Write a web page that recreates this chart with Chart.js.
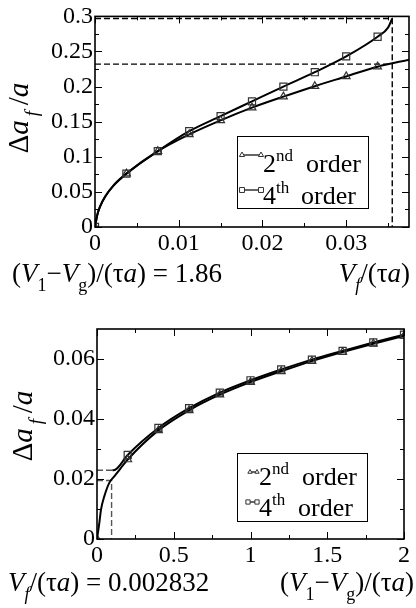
<!DOCTYPE html>
<html>
<head>
<meta charset="utf-8">
<title>Δa_f/a</title>
<script src="https://cdn.jsdelivr.net/npm/chart.js@4.4.1/dist/chart.umd.min.js"></script>
<style>
  html, body { margin: 0; padding: 0; background: #fff; }
  #wrap { width: 416px; height: 608px; position: relative; overflow: hidden; }
  canvas { display: block; }
</style>
</head>
<body>
<div id="wrap">
  <canvas id="topChart" width="416" height="300"></canvas>
  <canvas id="botChart" width="416" height="308"></canvas>
</div>
<script>
// ---- top panel: (V1-Vg)/(τa) = 1.86, x = Vf/(τa) ----
const topX = [0, 0.00375, 0.0075, 0.01125, 0.015, 0.01875, 0.0225, 0.02625, 0.03, 0.03375];
const top2nd = [0, 0.076, 0.108, 0.132, 0.152, 0.170, 0.1857, 0.2006, 0.2145, 0.2284];
const top4th = [0, 0.076, 0.108, 0.1365, 0.158, 0.179, 0.200, 0.2205, 0.243, 0.271];
const topStartX = [0, 0.00027, 0.0006, 0.0012, 0.0022];
const topStartY = [0, 0.017, 0.029, 0.043, 0.059];
const top2ndEndX = [0.0376];
const top2ndEndY = [0.2386];
const top4thEndX = [0.035, 0.0355];
const top4thEndY = [0.284, 0.297];
const topGuideX = 0.0355;
const topGuideY = [0.297, 0.232];
const topXTicks = [0, 0.01, 0.02, 0.03];
const topXLabels = ['0', '0.01', '0.02', '0.03'];
const topXMinor = [0.005, 0.015, 0.025, 0.035];
const topYTicks = [0, 0.05, 0.1, 0.15, 0.2, 0.25, 0.3];
const topYLabels = ['0', '0.05', '0.1', '0.15', '0.2', '0.25', '0.3'];
const topYMinor = [0.025, 0.075, 0.125, 0.175, 0.225, 0.275];

// ---- bottom panel: Vf/(τa) = 0.002832, x = (V1-Vg)/(τa) ----
const botX = [0, 0.2, 0.4, 0.6, 0.8, 1.0, 1.2, 1.4, 1.6, 1.8, 2.0];
const bot2nd = [0, 0.0265, 0.0362, 0.0429, 0.0481, 0.0523, 0.0559, 0.0593, 0.0623, 0.0651, 0.0677];
const bot4th = [null, 0.0280, 0.0370, 0.0436, 0.0488, 0.0529, 0.0565, 0.0598, 0.0627, 0.0655, 0.0681];
const botStartX = [0, 0.015, 0.026, 0.0475, 0.08, 0.1126, 0.156];
const botStartY = [0, 0.0053, 0.0098, 0.0142, 0.0187, 0.0209, 0.0237];
const bot4thStartX = [0.1, 0.12];
const bot4thStartY = [0.0229, 0.0231];
const botGuideX = [0.1, 0.095];
const botGuideY = [0.0229, 0.0195];
const botXTicks = [0, 0.5, 1, 1.5, 2];
const botXLabels = ['0', '0.5', '1', '1.5', '2'];
const botXMinor = [0.25, 0.75, 1.25, 1.75];
const botYTicks = [0, 0.02, 0.04, 0.06];
const botYLabels = ['0', '0.02', '0.04', '0.06'];
const botYMinor = [0.01, 0.03, 0.05];

const serif = '"Liberation Serif", "Times New Roman", serif';

function pts(xs, ys) {
    return xs.map((x, i) => ({ x: x, y: ys[i] })).filter(p => p.y !== null);
}

function setFont(ctx, f, size) {
    const small = f.includes('b') || f.includes('p');
    ctx.font = (f.includes('i') ? 'italic ' : '') + (small ? Math.round(size * 0.65) : size) + 'px ' + serif;
}

// segs: [text, flags]  i = italic, b = subscript, p = superscript
function drawRich(ctx, segs, x, y, size, align) {
    let w = 0;
    segs.forEach(s => { setFont(ctx, s[1] || '', size); w += ctx.measureText(s[0]).width; });
    let cx = align === 'right' ? x - w : align === 'center' ? x - w / 2 : x;
    ctx.textAlign = 'left';
    ctx.textBaseline = 'alphabetic';
    ctx.fillStyle = '#000';
    segs.forEach(s => {
        const f = s[1] || '';
        setFont(ctx, f, size);
        let dy = 0;
        if (f.includes('b')) dy = size * 0.33;
        if (f.includes('p')) dy = -size * 0.42;
        ctx.fillText(s[0], cx, y + dy);
        cx += ctx.measureText(s[0]).width;
    });
    return cx;
}

const deco = {
    id: 'deco',
    afterDraw(chart, args, o) {
        const ctx = chart.ctx;
        const a = chart.chartArea;
        const xs = chart.scales.x, ys = chart.scales.y;
        ctx.save();
        ctx.strokeStyle = '#000';
        ctx.lineWidth = 1;
        // inward ticks on all four sides
        const tick = (v, len, isX) => {
            ctx.beginPath();
            if (isX) {
                const p = Math.round(xs.getPixelForValue(v)) + 0.5;
                ctx.moveTo(p, a.bottom); ctx.lineTo(p, a.bottom - len);
                ctx.moveTo(p, a.top); ctx.lineTo(p, a.top + len);
            } else {
                const p = Math.round(ys.getPixelForValue(v)) + 0.5;
                ctx.moveTo(a.left, p); ctx.lineTo(a.left + len, p);
                ctx.moveTo(a.right, p); ctx.lineTo(a.right - len, p);
            }
            ctx.stroke();
        };
        o.xMajor.forEach(v => tick(v, 7, true));
        o.xMinor.forEach(v => tick(v, 4, true));
        o.yMajor.forEach(v => tick(v, 7, false));
        o.yMinor.forEach(v => tick(v, 4, false));
        ctx.lineWidth = 1.6;
        ctx.strokeRect(a.left, a.top, a.right - a.left, a.bottom - a.top);

        // legend box
        const L = o.legend;
        ctx.lineWidth = 1;
        ctx.strokeRect(L.x + 0.5, L.y + 0.5, L.w, L.h);
        L.rows.forEach(r => {
            ctx.strokeStyle = '#000';
            ctx.lineWidth = 1.2;
            ctx.beginPath();
            ctx.moveTo(r.x1, r.sy); ctx.lineTo(r.x2, r.sy);
            ctx.stroke();
            ctx.fillStyle = '#fff';
            ctx.strokeStyle = '#333';
            ctx.lineWidth = 1;
            [r.x1, r.x2].forEach(px => {
                Chart.helpers.drawPoint(ctx, { pointStyle: r.style, radius: r.r, rotation: 0, borderWidth: 1 }, px, r.sy);
            });
            drawRich(ctx, r.label, r.tx, r.by, L.size, 'left');
            drawRich(ctx, [['order']], r.ox, r.by, L.size, 'left');
        });

        // axis titles
        o.titles.forEach(t => {
            ctx.save();
            ctx.translate(t.x, t.y);
            if (t.rot) ctx.rotate(-Math.PI / 2);
            drawRich(ctx, t.segs, 0, 0, t.size, t.align);
            ctx.restore();
        });
        ctx.restore();
    }
};

function curve(data, ord) {
    return { data: data, borderColor: '#000', borderWidth: 2, pointRadius: 0,
             cubicInterpolationMode: 'monotone', order: ord };
}
function marks(data, style, r) {
    return { data: data, showLine: false, pointStyle: style, pointRadius: r, pointHoverRadius: r,
             pointBorderColor: '#333', pointBackgroundColor: 'rgba(255,255,255,0)', pointBorderWidth: 1.2, order: 0 };
}
function guide(data, color) {
    return { data: data, borderColor: color, borderWidth: 1.4, borderDash: [6, 3], pointRadius: 0, order: 3 };
}

function axis(min, max, ticks, labels, fitFn) {
    return {
        type: 'linear', min: min, max: max,
        afterBuildTicks: s => { s.ticks = ticks.map(v => ({ value: v })); },
        afterFit: fitFn,
        grid: { display: false, drawTicks: false },
        border: { display: false },
        ticks: {
            autoSkip: false, maxRotation: 0, padding: 2, color: '#000',
            font: { family: serif, size: 24 },
            callback: (v, i) => labels[i]
        }
    };
}

const yTitle = [['Δ'], ['a', 'i'], ['\u2009f', 'ib'], ['\u2009/'], ['a', 'i']];
const vgTitle = [['('], ['V', 'i'], ['1', 'b'], ['−'], ['V', 'i'], ['g', 'b'], [')/(τ'], ['a', 'i'], [')']];
const vfTitle = [['V', 'i'], ['f', 'ib'], ['/(τ'], ['a', 'i'], [')']];

// top chart
const topCurve2 = pts(topStartX.concat(topX.slice(1), top2ndEndX), topStartY.concat(top2nd.slice(1), top2ndEndY));
const topCurve4 = pts(topStartX.concat(topX.slice(1), top4thEndX), topStartY.concat(top4th.slice(1), top4thEndY));

new Chart(document.getElementById('topChart'), {
    type: 'line',
    data: {
        datasets: [
            guide([{ x: 0, y: topGuideY[0] }, { x: topGuideX, y: topGuideY[0] }, { x: topGuideX, y: 0 }], '#000'),
            guide([{ x: 0, y: topGuideY[1] }, { x: topGuideX, y: topGuideY[1] }], '#000'),
            curve(topCurve2, 2),
            curve(topCurve4, 1),
            marks(pts(topX, top2nd), 'triangle', 4.5),
            marks(pts(topX, top4th), 'rect', 5)
        ]
    },
    options: {
        responsive: false, animation: false, devicePixelRatio: 1,
        layout: { padding: { top: 12, right: 7, left: 0, bottom: 0 } },
        plugins: {
            legend: { display: false }, tooltip: { enabled: false },
            deco: {
                xMajor: topXTicks, xMinor: topXMinor, yMajor: topYTicks, yMinor: topYMinor,
                legend: {
                    x: 237, y: 136, w: 131, h: 72, size: 26,
                    rows: [
                        { x1: 242, x2: 261, sy: 155, style: 'triangle', r: 3, tx: 263, ox: 306, by: 172, label: [['2'], ['nd', 'p']] },
                        { x1: 242, x2: 261, sy: 190, style: 'rect', r: 3.5, tx: 263, ox: 301, by: 204, label: [['4'], ['th', 'p']] }
                    ]
                },
                titles: [
                    { x: 28, y: 118, rot: true, size: 29, align: 'center', segs: yTitle },
                    { x: 12, y: 282, size: 27, align: 'left', segs: vgTitle.concat([[' = 1.86']]) },
                    { x: 410, y: 282, size: 27, align: 'right', segs: vfTitle }
                ]
            }
        },
        scales: {
            x: axis(0, 0.0375, topXTicks, topXLabels, s => { s.height = 73; }),
            y: axis(0, 0.3, topYTicks, topYLabels, s => { s.width = 95; })
        }
    },
    plugins: [deco]
});

// bottom chart
const botCurve2 = pts(botStartX.concat(botX.slice(1)), botStartY.concat(bot2nd.slice(1)));
const botCurve4 = pts(bot4thStartX.concat(botX.slice(1)), bot4thStartY.concat(bot4th.slice(1)));

new Chart(document.getElementById('botChart'), {
    type: 'line',
    data: {
        datasets: [
            guide([{ x: 0, y: botGuideY[0] }, { x: botGuideX[0], y: botGuideY[0] }], '#555'),
            guide([{ x: 0, y: botGuideY[1] }, { x: botGuideX[1], y: botGuideY[1] }, { x: botGuideX[1], y: 0 }], '#555'),
            curve(botCurve2, 2),
            curve(botCurve4, 1),
            marks(pts(botX, bot2nd), 'triangle', 4.5),
            marks(pts(botX, bot4th), 'rect', 5)
        ]
    },
    options: {
        responsive: false, animation: false, devicePixelRatio: 1,
        layout: { padding: { top: 29, right: 12, left: 0, bottom: 0 } },
        plugins: {
            legend: { display: false }, tooltip: { enabled: false },
            deco: {
                xMajor: botXTicks, xMinor: botXMinor, yMajor: botYTicks, yMinor: botYMinor,
                legend: {
                    x: 237, y: 153, w: 130, h: 68, size: 26,
                    rows: [
                        { x1: 250, x2: 257, sy: 172, style: 'triangle', r: 2.5, tx: 259, ox: 302, by: 185, label: [['2'], ['nd', 'p']] },
                        { x1: 248, x2: 257, sy: 202, style: 'rect', r: 3, tx: 259, ox: 298, by: 216, label: [['4'], ['th', 'p']] }
                    ]
                },
                titles: [
                    { x: 32, y: 126, rot: true, size: 29, align: 'center', segs: yTitle },
                    { x: 8, y: 291, size: 27, align: 'left', segs: vfTitle.concat([[' = 0.002832']]) },
                    { x: 414, y: 291, size: 27, align: 'right', segs: vgTitle }
                ]
            }
        },
        scales: {
            x: axis(0, 2, botXTicks, botXLabels, s => { s.height = 69; }),
            y: axis(0, 0.07, botYTicks, botYLabels, s => { s.width = 97; })
        }
    },
    plugins: [deco]
});
</script>
</body>
</html>
